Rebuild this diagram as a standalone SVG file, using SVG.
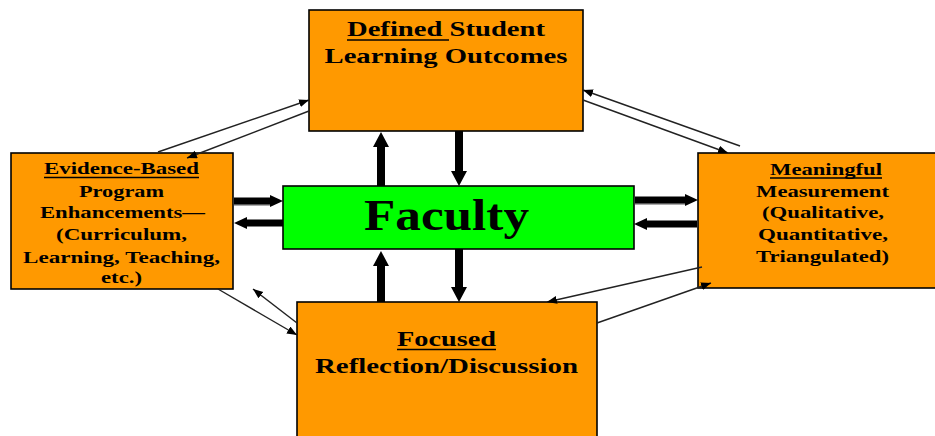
<svg xmlns="http://www.w3.org/2000/svg" width="935" height="436" viewBox="0 0 935 436">
<defs>
<style>
.box{fill:#FF9900;stroke:#000;stroke-width:1.6}
.fac{fill:#00FF00;stroke:#000;stroke-width:1.6}
.t{font-family:"Liberation Serif","Times New Roman",serif;font-weight:bold;fill:#000;text-anchor:middle}
.t22{font-size:22px}
.t17{font-size:17px}
.ul{stroke:#000;stroke-width:1.5}
.thin{stroke:#222;stroke-width:1.4;fill:none;marker-end:url(#ah)}
.thickv{stroke:#000;stroke-width:8;marker-end:url(#bh)}
.thickh{stroke:#000;stroke-width:7;marker-end:url(#hh)}
.shadow{stroke:#aaa;stroke-width:2}
</style>
<marker id="ah" markerUnits="userSpaceOnUse" markerWidth="11" markerHeight="9" refX="10" refY="4" orient="auto"><path d="M0,0 L10,4 L0,8 z" fill="#000"/></marker>
<marker id="bh" markerUnits="userSpaceOnUse" markerWidth="16" markerHeight="17" refX="0" refY="8" orient="auto"><path d="M0,0 L15,8 L0,16 z" fill="#000"/></marker>
<marker id="hh" markerUnits="userSpaceOnUse" markerWidth="14" markerHeight="13" refX="0" refY="6" orient="auto"><path d="M0,0 L13,6 L0,12 z" fill="#000"/></marker>
</defs>
<rect width="935" height="436" fill="#fff"/>

<g id="top">
<rect class="box" x="309" y="10" width="274" height="121"/>
<text class="t t22" x="446" y="36" textLength="198" lengthAdjust="spacingAndGlyphs">Defined Student</text>
<line class="ul" x1="347" y1="40" x2="449" y2="40"/>
<text class="t t22" x="446" y="63" textLength="243" lengthAdjust="spacingAndGlyphs">Learning Outcomes</text>
</g>

<g id="left">
<rect class="box" x="11" y="153" width="222" height="136"/>
<text class="t t17" x="121.5" y="174" textLength="155" lengthAdjust="spacingAndGlyphs">Evidence-Based</text>
<line class="ul" x1="44" y1="177.5" x2="199" y2="177.5"/>
<text class="t t17" x="121.5" y="197" textLength="85" lengthAdjust="spacingAndGlyphs">Program</text>
<text class="t t17" x="122.5" y="218" textLength="165" lengthAdjust="spacingAndGlyphs">Enhancements—</text>
<text class="t t17" x="121.5" y="240" textLength="131" lengthAdjust="spacingAndGlyphs">(Curriculum,</text>
<text class="t t17" x="121.5" y="263" textLength="197" lengthAdjust="spacingAndGlyphs">Learning, Teaching,</text>
<text class="t t17" x="121.5" y="283" textLength="41" lengthAdjust="spacingAndGlyphs">etc.)</text>
</g>

<g id="right">
<rect class="box" x="698" y="153" width="250" height="135"/>
<text class="t t17" x="826" y="175" textLength="112" lengthAdjust="spacingAndGlyphs">Meaningful</text>
<line class="ul" x1="770" y1="178" x2="882" y2="178"/>
<text class="t t17" x="822.5" y="197" textLength="133" lengthAdjust="spacingAndGlyphs">Measurement</text>
<text class="t t17" x="823" y="218" textLength="122" lengthAdjust="spacingAndGlyphs">(Qualitative,</text>
<text class="t t17" x="823" y="240" textLength="130" lengthAdjust="spacingAndGlyphs">Quantitative,</text>
<text class="t t17" x="822.5" y="262" textLength="133" lengthAdjust="spacingAndGlyphs">Triangulated)</text>
</g>

<g id="bottom">
<rect class="box" x="297" y="302" width="300" height="140"/>
<text class="t t22" x="446.5" y="346" textLength="99" lengthAdjust="spacingAndGlyphs">Focused</text>
<line class="ul" x1="397" y1="349.5" x2="496" y2="349.5"/>
<text class="t t22" x="446.5" y="373" textLength="263" lengthAdjust="spacingAndGlyphs">Reflection/Discussion</text>
</g>

<g id="faculty">
<rect class="fac" x="283" y="186" width="351" height="63"/>
<text class="t" style="font-size:44px" x="446.5" y="230" textLength="165" lengthAdjust="spacingAndGlyphs">Faculty</text>
</g>

<g id="connectors">
<line class="thin" x1="158" y1="152" x2="309" y2="100"/>
<line class="thin" x1="309" y1="111" x2="187" y2="158"/>
<line class="thin" x1="740" y1="146" x2="583" y2="90"/>
<line class="thin" x1="583" y1="100" x2="728" y2="153"/>
<line class="thin" x1="702" y1="267" x2="547" y2="302"/>
<line class="thin" x1="597" y1="323" x2="711" y2="283"/>
<line class="thin" x1="218" y1="289" x2="297" y2="335"/>
<line class="thin" x1="297" y1="323" x2="253" y2="289"/>
<line class="thickv" x1="381" y1="186" x2="381" y2="147"/>
<line class="thickv" x1="459" y1="131" x2="459" y2="171"/>
<line class="thickv" x1="381" y1="302" x2="381" y2="266"/>
<line class="thickv" x1="459" y1="249" x2="459" y2="287"/>
<line class="shadow" x1="234" y1="205" x2="270" y2="205"/>
<line class="shadow" x1="635" y1="204" x2="685" y2="204"/>
<line class="thickh" x1="234" y1="201" x2="270" y2="201"/>
<line class="thickh" x1="283" y1="223" x2="247" y2="223"/>
<line class="thickh" x1="635" y1="200" x2="685" y2="200"/>
<line class="thickh" x1="697" y1="224" x2="647" y2="224"/>
</g>
</svg>
